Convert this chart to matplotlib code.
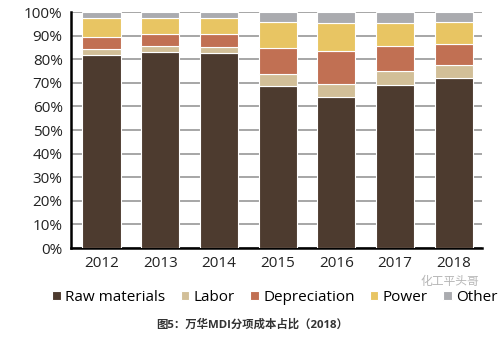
import matplotlib.pyplot as plt
import numpy as np

years = ["2012", "2013", "2014", "2015", "2016", "2017", "2018"]
raw_materials = [82.0, 83.1, 82.8, 68.8, 64.1, 69.2, 71.9]
labor = [2.5, 2.4, 2.4, 5.0, 5.3, 5.8, 5.7]
depreciation = [5.0, 5.3, 5.6, 10.9, 14.0, 10.7, 8.8]
power = [8.2, 6.9, 6.9, 11.3, 12.1, 9.9, 9.3]
other = [2.3, 2.3, 2.3, 4.0, 4.5, 4.4, 4.3]

series = [
    ("Raw materials", raw_materials, "#4d3b2f"),
    ("Labor", labor, "#d2bf98"),
    ("Depreciation", depreciation, "#c17053"),
    ("Power", power, "#e8c563"),
    ("Other", other, "#aaabaf"),
]

plt.rcParams['font.family'] = ['Open Sans', 'Noto Sans CJK SC', 'DejaVu Sans']

fig = plt.figure(figsize=(5.0, 3.37), dpi=100)
ax = fig.add_axes([0.142, 0.264, 0.822, 0.700])

x = np.arange(len(years))
bottom = np.zeros(len(years))
for name, vals, color in series:
    ax.bar(x, vals, width=0.65, bottom=bottom, color=color, label=name,
           edgecolor="white", linewidth=0.8, zorder=3)
    bottom += np.array(vals)

ax.set_xlim(-0.52, 6.48)
ax.set_ylim(0, 100)
ax.set_yticks(np.arange(0, 101, 10))
ax.set_yticklabels([f"{v}%" for v in range(0, 101, 10)], fontsize=11, color="#222222")
ax.set_xticks(x)
ax.set_xticklabels(years, fontsize=11, color="#222222")
ax.tick_params(length=0, pad=6)
ax.yaxis.grid(True, color="#a6a6a6", linewidth=1.4, zorder=0)
ax.set_axisbelow(True)

for side in ("top", "right"):
    ax.spines[side].set_visible(False)
ax.spines["left"].set_linewidth(1.8)
ax.spines["bottom"].set_linewidth(1.8)

fig.legend(loc="center", bbox_to_anchor=(0.55, 0.118), ncol=5, frameon=False,
           fontsize=11, handlelength=0.55, handleheight=0.55, handletextpad=0.3,
           columnspacing=1.0)

# watermark
fig.text(0.9, 0.165, "化工平头哥", fontsize=8.5, color="#b5b5b5", ha="center", va="center")

fig.text(0.505, 0.035, "图5：万华MDI分项成本占比（2018）", fontsize=8.2, fontweight="bold",
         color="#333333", ha="center", va="center")

fig.savefig("out.png", dpi=100)
